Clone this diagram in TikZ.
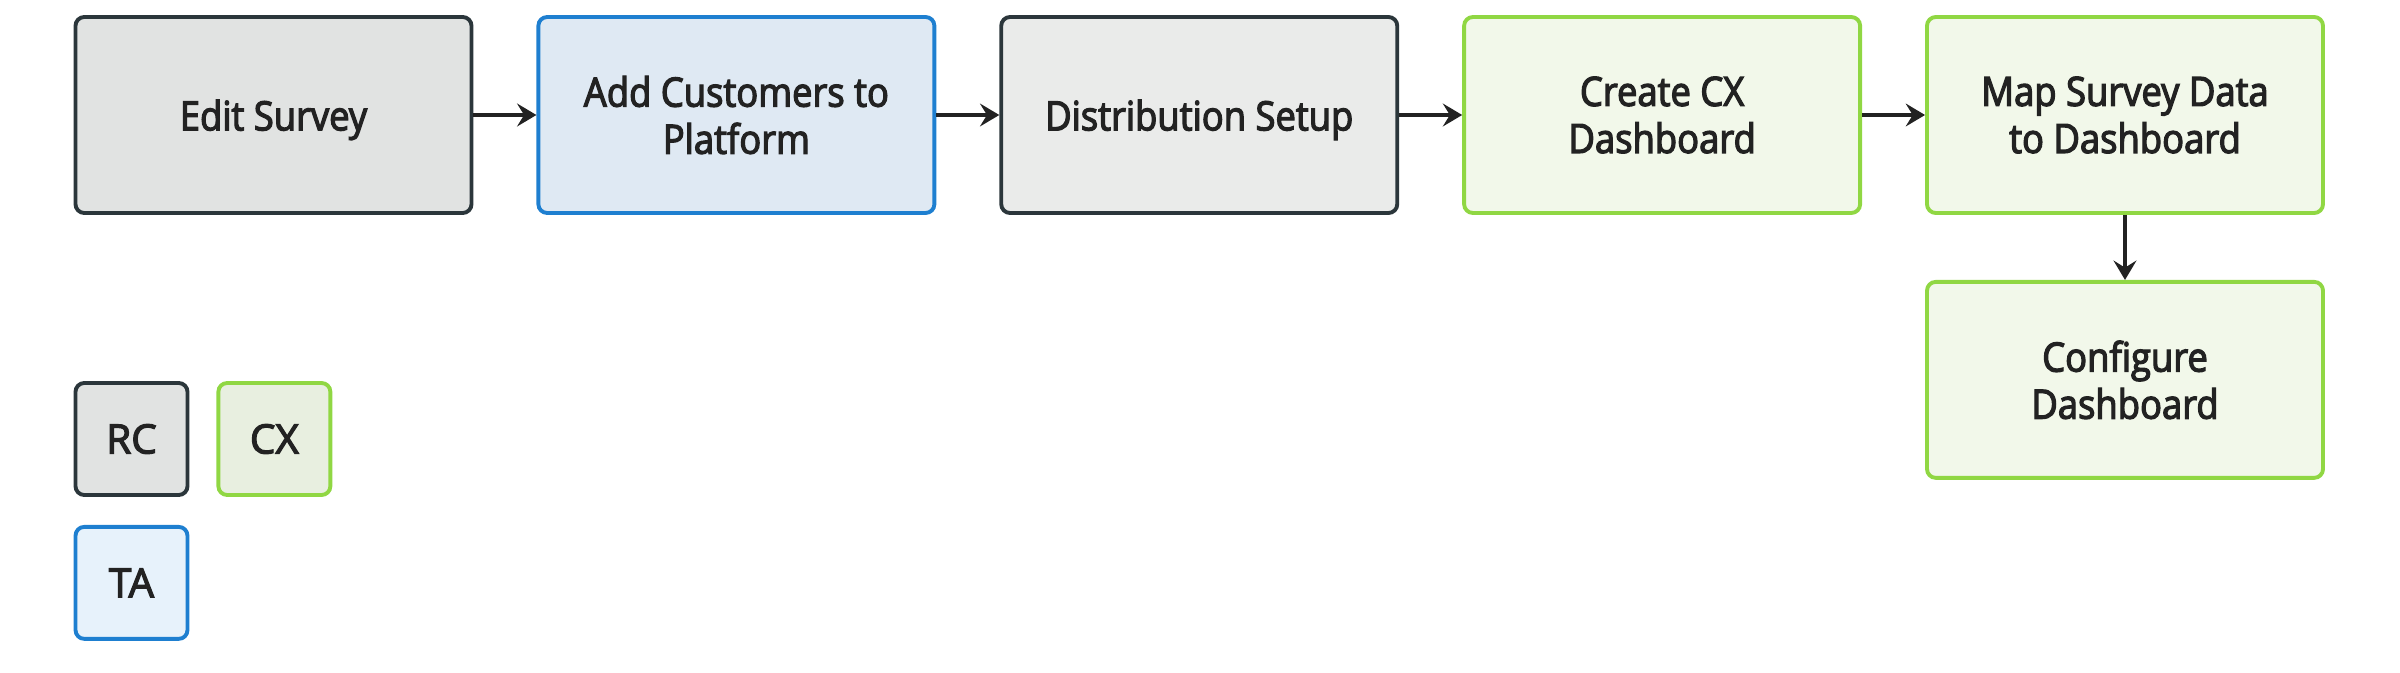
\documentclass[tikz,border=0pt]{standalone}
\usepackage{fontspec}
\setmainfont{Open Sans}[FakeBold=3]
\newfontfamily\stepfont[FakeStretch=0.9,FakeBold=3]{Open Sans}
\usetikzlibrary{positioning,arrows.meta}
\definecolor{rcline}{HTML}{2B363B}
\definecolor{rcfill}{HTML}{E1E3E2}
\definecolor{rcfilllight}{HTML}{EAEBEA}
\definecolor{taline}{HTML}{1E7FD0}
\definecolor{tafill}{HTML}{DFE9F3}
\definecolor{tafilllight}{HTML}{E7F2FB}
\definecolor{cxline}{HTML}{90D743}
\definecolor{cxfill}{HTML}{F2F8EA}
\definecolor{cxfilldark}{HTML}{E8EFE0}
\definecolor{textcol}{HTML}{222222}

\begin{document}
\begin{tikzpicture}[align=center, text=textcol,
    stepbox/.style={draw, line width=1.1pt, rounded corners=2.5pt, inner sep=0pt,
        minimum width=3.96cm, minimum height=1.96cm,
        font=\stepfont\fontsize{11.5}{13.4}\selectfont},
    oneline/.style={text depth=0pt},
    keybox/.style={draw, line width=1.1pt, rounded corners=2.5pt, inner sep=0pt,
        minimum width=1.12cm, minimum height=1.12cm,
        font=\fontsize{11.5}{13.4}\selectfont},
    rc/.style={draw=rcline, fill=rcfill},
    ta/.style={draw=taline, fill=tafill},
    cx/.style={draw=cxline, fill=cxfill},
    flow/.style={-{Stealth[length=5.5pt,width=6.5pt,inset=2pt]}, line width=1.2pt, draw=textcol}]
    \useasboundingbox (0,0) rectangle (24,6.72);

    % process steps
    \node [stepbox, rc, oneline] (edit_survey) at (2.735,5.57) {Edit Survey};
    \node [stepbox, ta, right=0.63cm of edit_survey] (add_customers) {Add Customers to\\Platform};
    \node [stepbox, rc, oneline, fill=rcfilllight, right=0.63cm of add_customers] (distribution) {Distribution Setup};
    \node [stepbox, cx, right=0.63cm of distribution] (create_cx) {Create CX\\Dashboard};
    \node [stepbox, cx, right=0.63cm of create_cx] (map_data) {Map Survey Data\\to Dashboard};
    \node [stepbox, cx, below=0.65cm of map_data] (configure) {Configure\\Dashboard};

    \draw[flow] (edit_survey) -- (add_customers);
    \draw[flow] (add_customers) -- (distribution);
    \draw[flow] (distribution) -- (create_cx);
    \draw[flow] (create_cx) -- (map_data);
    \draw[flow] (map_data) -- (configure);

    % legend
    \node [keybox, rc] (key_rc) at (1.315,2.33) {RC};
    \node [keybox, cx, fill=cxfilldark, right=0.27cm of key_rc] (key_cx) {CX};
    \node [keybox, ta, fill=tafilllight, below=0.28cm of key_rc] (key_ta) {TA};
\end{tikzpicture}
\end{document}
